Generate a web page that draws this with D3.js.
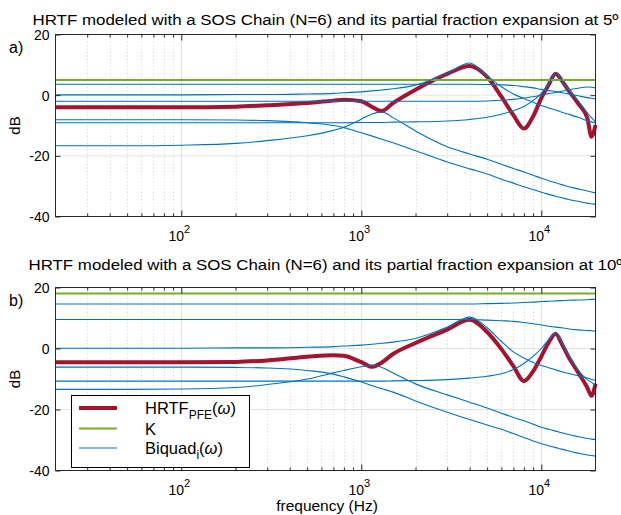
<!DOCTYPE html>
<html><head><meta charset="utf-8">
<script src="https://cdn.jsdelivr.net/npm/d3@7"></script>
<style>
body{margin:0;background:#fff}
text{font-family:"Liberation Sans",Arial,Helvetica,sans-serif;fill:#000}
</style>
</head><body>
<svg id="chart" width="621" height="515"></svg>
<script>
// ---------------- data ----------------
const freqs = [20, 50, 100, 200, 300, 500, 700, 800, 1000, 1150, 1300, 1500, 2000, 3000, 4000, 5000, 6000, 7000, 8000, 9000, 10000, 11000, 12000, 13000, 14000, 16000, 18000, 19000, 20000];

const titles = ["HRTF modeled with a SOS Chain (N=6) and its partial fraction expansion at 5º",
                "HRTF modeled with a SOS Chain (N=6) and its partial fraction expansion at 10º"];
const panelTags = ["a)", "b)"];
const yTicks = [20, 0, -20, -40];
const xMajorTicks = [100, 1000, 10000];

// panel a (5º)
const kA = 5;
const hrtfA = [-4.0, -4.0, -4.0, -3.8, -3.3, -2.6, -1.8, -1.5, -2.0, -3.9, -5.2, -2.6, 1.8, 7.0, 9.6, 6.0, -0.5, -6.6, -11.0, -7.0, -1.0, 3.5, 7.1, 4.8, 2.0, -2.7, -7.5, -13.7, -9.8];
const biqA1 = [3.6, 3.6, 3.6, 3.6, 3.6, 3.6, 3.6, 3.6, 3.6, 3.6, 3.6, 3.6, 3.6, 3.6, 3.6, 3.5, 3.4, 3.2, 2.8, 2.4, 1.9, 1.5, 1.2, 0.8, 0.5, -0.2, -0.8, -1.0, -1.3];
const biqA2 = [0.1, 0.1, 0.1, 0.2, 0.2, 0.4, 0.6, 0.8, 1.1, 1.4, 1.7, 2.1, 3.3, 7.2, 10.6, 6.3, 2.8, 0.4, -1.1, -2.3, -3.4, -4.2, -4.9, -5.6, -6.2, -7.3, -8.4, -8.8, -9.1];
const biqA3 = [-2.0, -2.0, -2.0, -2.0, -2.0, -2.0, -2.0, -2.0, -2.0, -2.0, -2.0, -2.0, -2.0, -2.0, -2.0, -1.9, -1.7, -1.4, -1.0, -0.5, 0.0, 0.5, 0.9, 1.3, 1.7, 2.3, 2.7, 2.6, 2.4];
const biqA4 = [-8.1, -8.1, -8.1, -8.2, -8.4, -9.1, -10.0, -10.7, -12.4, -13.5, -14.5, -15.7, -18.3, -22.0, -24.3, -26.0, -27.7, -29.0, -30.2, -31.1, -32.0, -32.7, -33.3, -33.8, -34.3, -35.0, -35.6, -35.8, -36.0];
const biqA5 = [-9.1, -9.1, -9.1, -9.1, -9.1, -9.1, -9.1, -9.1, -9.0, -9.0, -9.0, -8.9, -8.8, -8.5, -8.0, -7.3, -6.3, -5.1, -3.7, -1.8, 0.6, 3.8, 7.4, 4.8, 2.3, -1.8, -5.8, -7.4, -8.8];
const biqA6 = [-16.7, -16.7, -16.5, -15.9, -15.0, -13.4, -11.6, -10.6, -7.9, -6.2, -5.5, -7.4, -11.8, -17.0, -19.4, -21.1, -22.8, -24.2, -25.3, -26.4, -27.4, -28.2, -28.9, -29.5, -30.1, -30.9, -31.6, -31.9, -32.2];

// panel b (10º)
const kB = 18;
const hrtfB = [-4.5, -4.5, -4.5, -4.4, -3.9, -2.7, -2.2, -2.4, -4.5, -6.0, -4.6, -1.8, 1.8, 6.2, 9.4, 5.4, -0.2, -5.8, -10.7, -7.5, -2.6, 2.0, 4.8, 1.5, -2.2, -7.8, -12.8, -15.5, -11.5];
const biqB1 = [14.6, 14.6, 14.6, 14.6, 14.6, 14.6, 14.6, 14.6, 14.6, 14.6, 14.6, 14.6, 14.6, 14.6, 14.6, 14.7, 14.8, 14.9, 15.1, 15.2, 15.4, 15.5, 15.6, 15.7, 15.8, 15.9, 16.0, 16.1, 16.1];
const biqB2 = [9.5, 9.5, 9.5, 9.5, 9.5, 9.5, 9.5, 9.5, 9.5, 9.5, 9.5, 9.5, 9.5, 9.5, 9.5, 9.3, 9.1, 8.9, 8.5, 8.1, 7.7, 7.3, 7.0, 6.8, 6.5, 6.1, 5.9, 5.8, 5.7];
const biqB3 = [0.1, 0.1, 0.1, 0.2, 0.2, 0.4, 0.6, 0.8, 1.1, 1.4, 1.7, 2.1, 3.3, 7.0, 10.3, 6.8, 2.3, -1.1, -3.1, -4.6, -5.6, -6.3, -7.0, -7.6, -8.1, -8.9, -9.7, -10.1, -10.5];
const biqB4 = [-6.1, -6.1, -6.1, -6.2, -6.4, -7.2, -8.4, -9.3, -11.0, -12.2, -13.2, -14.3, -17.2, -20.9, -23.3, -25.1, -26.5, -27.9, -29.2, -30.3, -31.2, -31.9, -32.5, -33.0, -33.5, -34.3, -34.9, -35.1, -35.3];
const biqB5 = [-13.4, -13.4, -13.3, -12.8, -11.8, -10.0, -8.0, -7.2, -6.0, -5.5, -6.2, -8.0, -11.6, -15.2, -17.6, -19.5, -21.2, -22.6, -23.7, -24.8, -25.8, -26.5, -27.1, -27.6, -28.1, -28.9, -29.5, -29.7, -29.8];
const biqB6 = [-10.7, -10.7, -10.7, -10.7, -10.7, -10.7, -10.7, -10.7, -10.7, -10.7, -10.7, -10.6, -10.5, -10.2, -9.7, -9.1, -8.3, -6.9, -4.9, -2.6, 0.0, 3.0, 5.0, 2.0, -1.7, -7.0, -10.2, -11.1, -12.0];

// ---------------- drawing ----------------
const RED = "#A2142F", GREEN = "#77AC30", BLUE = "#0072BD", AX = "#262626";
const svg = d3.select("#chart");
const x = d3.scaleLog().domain([20, 20000]).range([55.5, 595.5]);

const panels = [
  {top: 34.5, bottom: 216.5, k: kA, hrtf: hrtfA, biq: [biqA1, biqA2, biqA3, biqA4, biqA5, biqA6], title: titles[0], tag: panelTags[0], titleLen: 586, titleY: 25},
  {top: 287.5, bottom: 470.5, k: kB, hrtf: hrtfB, biq: [biqB1, biqB2, biqB3, biqB4, biqB5, biqB6], title: titles[1], tag: panelTags[1], titleLen: 594, titleY: 269.5}
];

const minorTicks = [];
[10, 100, 1000, 10000].forEach(d => { for (let m = 2; m <= 9; m++) { const f = m * d; if (f > 20 && f < 20000) minorTicks.push(f); } });

panels.forEach((p) => {
  const y = d3.scaleLinear().domain([-40, 20]).range([p.bottom, p.top]);
  const g = svg.append("g");
  const x0 = x.range()[0], x1 = x.range()[1];

  // grid
  g.append("g").selectAll("line").data(minorTicks).join("line")
    .attr("x1", d => Math.round(x(d)) + 0.5).attr("x2", d => Math.round(x(d)) + 0.5)
    .attr("y1", p.top).attr("y2", p.bottom)
    .attr("stroke", "#d4d4d4").attr("stroke-width", 1).attr("stroke-dasharray", "1,2.5");
  g.append("g").selectAll("line").data(xMajorTicks).join("line")
    .attr("x1", d => Math.round(x(d)) + 0.5).attr("x2", d => Math.round(x(d)) + 0.5)
    .attr("y1", p.top).attr("y2", p.bottom)
    .attr("stroke", "#e3e3e3").attr("stroke-width", 1);
  g.append("g").selectAll("line").data([0, -20]).join("line")
    .attr("x1", x0).attr("x2", x1).attr("y1", d => y(d)).attr("y2", d => y(d))
    .attr("stroke", "#e3e3e3").attr("stroke-width", 1);

  const line = d3.line().x((d, i) => x(freqs[i])).y(d => y(d)).curve(d3.curveMonotoneX);

  // HRTF
  g.append("path").datum(p.hrtf).attr("d", line).attr("fill", "none")
    .attr("stroke", RED).attr("stroke-width", 4).attr("stroke-linejoin", "round");
  // K
  g.append("path").datum(freqs.map(() => p.k)).attr("d", line).attr("fill", "none")
    .attr("stroke", GREEN).attr("stroke-width", 2);
  // biquads
  g.append("g").selectAll("path").data(p.biq).join("path").attr("d", line).attr("fill", "none")
    .attr("stroke", BLUE).attr("stroke-width", 1.1);

  // axes (ticks inside)
  const styleAxis = a => { a.select(".domain").remove(); a.selectAll("line").attr("stroke", AX); };
  const xb = g.append("g").attr("transform", `translate(0,${p.bottom})`)
    .call(d3.axisBottom(x).tickValues(xMajorTicks).tickSize(-6).tickPadding(0).tickFormat(""));
  styleAxis(xb);
  const xbm = g.append("g").attr("transform", `translate(0,${p.bottom})`)
    .call(d3.axisBottom(x).tickValues(minorTicks).tickSize(-3).tickFormat(""));
  styleAxis(xbm);
  const xt = g.append("g").attr("transform", `translate(0,${p.top})`)
    .call(d3.axisTop(x).tickValues(xMajorTicks).tickSize(-6).tickFormat(""));
  styleAxis(xt);
  const xtm = g.append("g").attr("transform", `translate(0,${p.top})`)
    .call(d3.axisTop(x).tickValues(minorTicks).tickSize(-3).tickFormat(""));
  styleAxis(xtm);

  const yl = g.append("g").attr("transform", `translate(${x0},0)`)
    .call(d3.axisLeft(y).tickValues(yTicks).tickSize(-5).tickPadding(6).tickFormat(d => String(d)));
  styleAxis(yl);
  yl.selectAll("text").attr("font-size", 14).attr("font-family", '"Liberation Sans",Arial,sans-serif').attr("fill", "#000").attr("dy", "0.36em");
  const yr = g.append("g").attr("transform", `translate(${x1},0)`)
    .call(d3.axisRight(y).tickValues(yTicks).tickSize(-5).tickFormat(""));
  styleAxis(yr);

  // box
  g.append("rect").attr("x", x0).attr("y", p.top).attr("width", x1 - x0).attr("height", p.bottom - p.top)
    .attr("fill", "none").attr("stroke", AX).attr("stroke-width", 1);

  // x tick labels 10^n
  xMajorTicks.forEach(f => {
    const t = g.append("text").attr("x", x(f) - 2).attr("y", p.bottom + 24.5)
      .attr("text-anchor", "middle").attr("font-size", 14);
    t.append("tspan").text("10");
    t.append("tspan").attr("dy", -8).attr("font-size", 11).text(String(Math.round(Math.log10(f))));
  });

  // y label
  g.append("text").attr("transform", `translate(20,${(p.top + p.bottom) / 2}) rotate(-90)`)
    .attr("text-anchor", "middle").attr("font-size", 15).text("dB");

  // title
  g.append("text").attr("x", 325.5).attr("y", p.titleY).attr("text-anchor", "middle")
    .attr("font-size", 15.5).attr("textLength", p.titleLen).attr("lengthAdjust", "spacingAndGlyphs").text(p.title);

  // tag
  g.append("text").attr("x", 9).attr("y", p.top + 18.5).attr("font-size", 16).text(p.tag);
});

// x label
svg.append("text").attr("x", 327).attr("y", 511).attr("text-anchor", "middle").attr("font-size", 15.5).text("frequency (Hz)");

// legend
const lg = svg.append("g");
lg.append("rect").attr("x", 71.5).attr("y", 395.5).attr("width", 178).attr("height", 72)
  .attr("fill", "#fff").attr("stroke", "#000").attr("stroke-width", 1);
const legendItems = [
  {c: RED, w: 4, y: 408, main: "HRTF", sub: "PFE", tail: true},
  {c: GREEN, w: 2, y: 428.5, main: "K", sub: null, tail: false},
  {c: BLUE, w: 1.1, y: 448, main: "Biquad", sub: "i", tail: true}
];
legendItems.forEach(it => {
  lg.append("line").attr("x1", 79).attr("x2", 117).attr("y1", it.y).attr("y2", it.y)
    .attr("stroke", it.c).attr("stroke-width", it.w);
  const t = lg.append("text").attr("x", 145).attr("y", it.y + 6).attr("font-size", 16.5);
  t.append("tspan").text(it.main);
  if (it.sub) t.append("tspan").attr("dy", 5).attr("font-size", 12).text(it.sub);
  if (it.tail) {
    t.append("tspan").attr("dy", it.sub ? -5 : 0).text("(");
    t.append("tspan").attr("font-style", "italic").text("ω");
    t.append("tspan").text(")");
  }
});
</script>
</body></html>
